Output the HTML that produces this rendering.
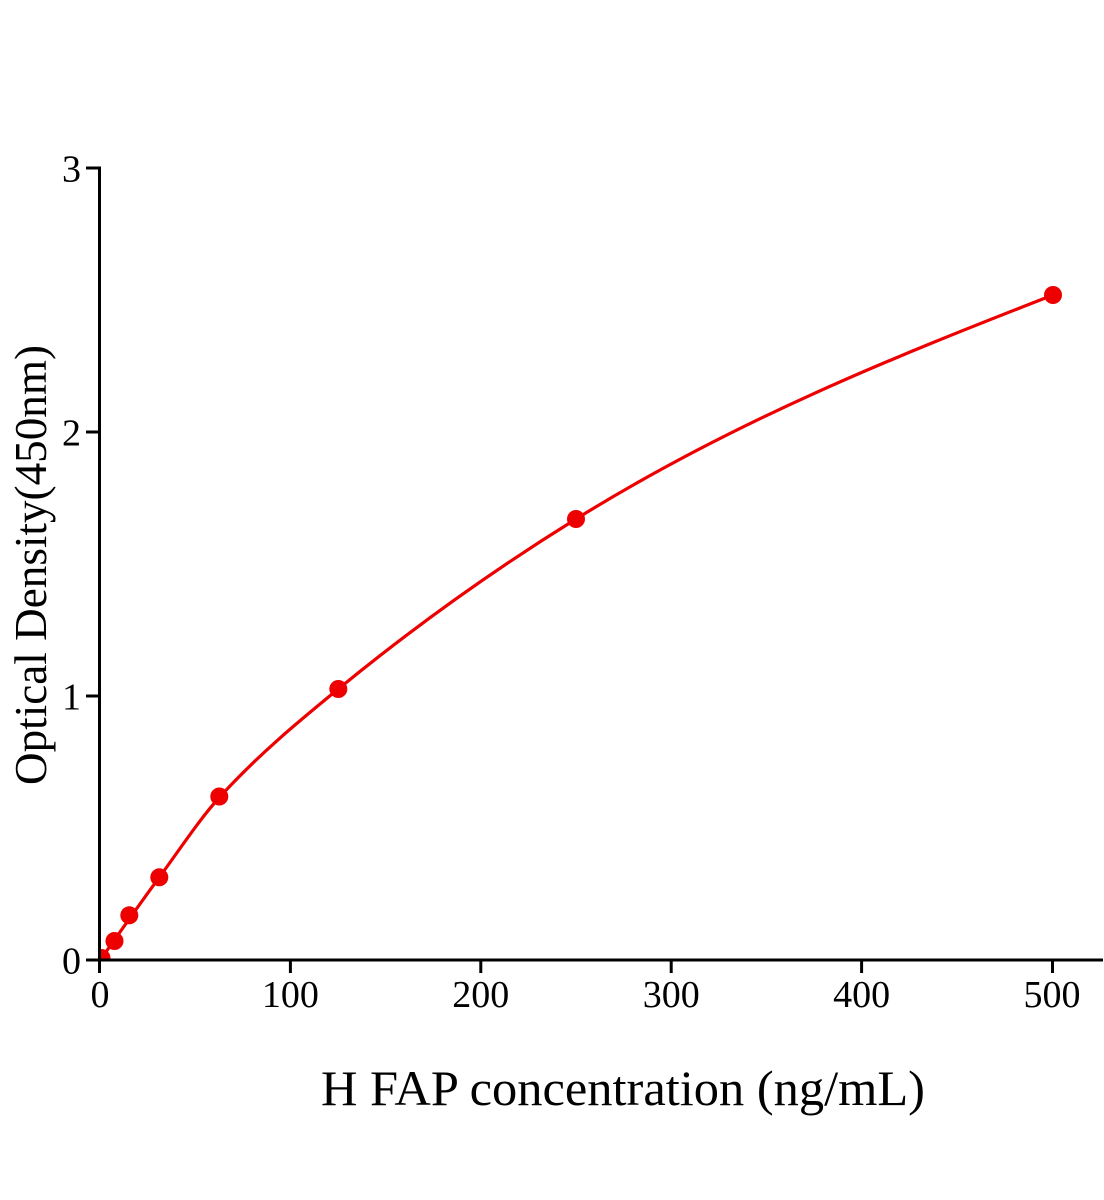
<!DOCTYPE html>
<html>
<head>
<meta charset="utf-8">
<style>
  html, body { margin: 0; padding: 0; background: #ffffff; }
  svg { display: block; }
  text { font-family: "Liberation Serif", "Times New Roman", serif; fill: #000; }
</style>
</head>
<body>
<svg width="1104" height="1200" viewBox="0 0 1104 1200" xmlns="http://www.w3.org/2000/svg">
  <rect x="0" y="0" width="1104" height="1200" fill="#ffffff"/>
  <defs>
    <clipPath id="plot">
      <rect x="100" y="100" width="1004" height="860"/>
    </clipPath>
  </defs>

  <!-- curve -->
  <path d="M101,959 C120.43,931.4 139.87,903.7 159.3,877.3 C179.3,850.1 199.3,819.5 219.3,797.5 C258.97,753.9 298.63,721.5 338.3,689 C417.53,624 496.77,568.1 576,519 C735,420.4 894,357 1053,295"
        fill="none" stroke="#ee0000" stroke-width="3.2" stroke-linejoin="round" stroke-linecap="round"/>

  <!-- points -->
  <g fill="#ee0000">
    <circle cx="101.5" cy="958" r="9" clip-path="url(#plot)"/>
    <circle cx="114.5" cy="941" r="9"/>
    <circle cx="129.3" cy="915.3" r="9"/>
    <circle cx="159.3" cy="877.3" r="9"/>
    <circle cx="219.3" cy="796.5" r="9"/>
    <circle cx="338.3" cy="689" r="9"/>
    <circle cx="576" cy="519" r="9"/>
    <circle cx="1053" cy="295" r="9"/>
  </g>

  <!-- axes -->
  <g stroke="#000" stroke-width="3" fill="none">
    <line x1="99.5" y1="166.5" x2="99.5" y2="961.5"/>
    <line x1="86" y1="960" x2="1103" y2="960"/>
    <!-- y ticks -->
    <line x1="86" y1="168" x2="101" y2="168"/>
    <line x1="86" y1="432" x2="101" y2="432"/>
    <line x1="86" y1="696" x2="101" y2="696"/>
    <!-- x ticks -->
    <line x1="99.5" y1="958.5" x2="99.5" y2="973"/>
    <line x1="290.4" y1="958.5" x2="290.4" y2="973"/>
    <line x1="480.8" y1="958.5" x2="480.8" y2="973"/>
    <line x1="671.2" y1="958.5" x2="671.2" y2="973"/>
    <line x1="861.6" y1="958.5" x2="861.6" y2="973"/>
    <line x1="1052.5" y1="958.5" x2="1052.5" y2="973"/>
  </g>

  <!-- y tick labels -->
  <g font-size="38" text-anchor="end">
    <text x="81" y="181.5">3</text>
    <text x="81" y="445.5">2</text>
    <text x="81" y="709.5">1</text>
    <text x="81" y="973.5">0</text>
  </g>

  <!-- x tick labels -->
  <g font-size="38" text-anchor="middle">
    <text x="100" y="1007">0</text>
    <text x="290.4" y="1007">100</text>
    <text x="480.8" y="1007">200</text>
    <text x="671.2" y="1007">300</text>
    <text x="861.6" y="1007">400</text>
    <text x="1052" y="1007">500</text>
  </g>

  <!-- axis titles -->
  <text x="321" y="1105" font-size="50" textLength="604" lengthAdjust="spacingAndGlyphs">H FAP concentration (ng/mL)</text>
  <text transform="translate(46,565) rotate(-90)" font-size="46" text-anchor="middle" textLength="440" lengthAdjust="spacingAndGlyphs">Optical Density(450nm)</text>
</svg>
</body>
</html>
